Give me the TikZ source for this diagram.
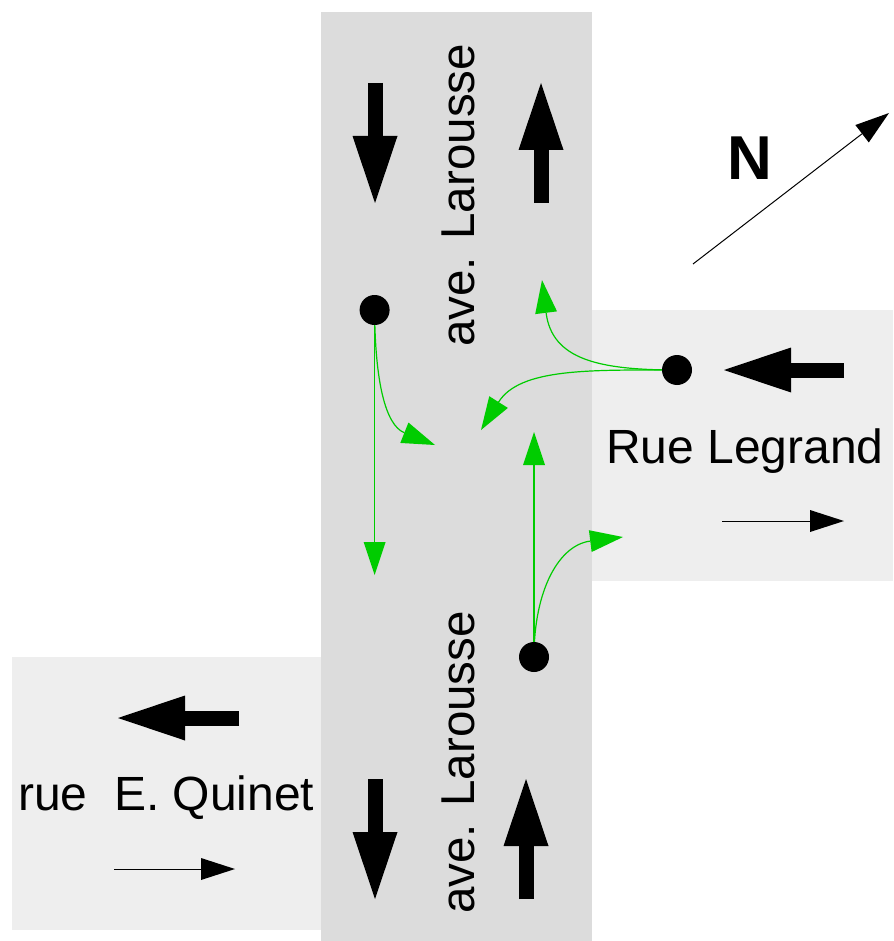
\documentclass[tikz,border=0pt]{standalone}
\usepackage{fontspec}
\setmainfont{Liberation Sans}
\usetikzlibrary{arrows.meta}
\definecolor{roadmain}{HTML}{DCDCDC}
\definecolor{roadside}{HTML}{EEEEEE}
\definecolor{turn}{HTML}{00CC00}
\tikzset{
  label text/.style={inner sep=0pt,font=\fontsize{48}{50}\selectfont,anchor=base west},
  big arrow/.style={line width=15pt,-{Triangle[length=67pt,width=45pt,line width=0pt]}},
  thin arrow/.style={line width=1pt,-{Triangle[length=34pt,width=22pt,line width=0pt]}},
  turn arrow/.style={line width=1.2pt,draw=turn,-{Triangle[length=33pt,width=22pt,fill=turn,line width=0pt]}},
  stop dot/.style={circle,fill=black,inner sep=0pt,minimum size=30pt},
}
\begin{document}
\begin{tikzpicture}[x=1pt,y=-1pt]
\useasboundingbox (0,0) rectangle (893,941);
\fill[roadside] (592,310) rectangle (893,581);
\fill[roadside] (12,657) rectangle (321,930);
\fill[roadmain] (321,12) rectangle (592,941);
% named ends
\coordinate (a1s) at (375,83);  \coordinate (a1e) at (375,203);
\coordinate (a2s) at (541,203); \coordinate (a2e) at (541,83);
\coordinate (a3s) at (375,779); \coordinate (a3e) at (375,899);
\coordinate (a4s) at (526,899); \coordinate (a4e) at (526,779);
\coordinate (a5s) at (844,370); \coordinate (a5e) at (724,370);
\coordinate (a6s) at (239,718); \coordinate (a6e) at (118,718);
\coordinate (t1s) at (722,521); \coordinate (t1e) at (844,521);
\coordinate (t2s) at (114,869); \coordinate (t2e) at (235,869);
\coordinate (ns) at (693,264);  \coordinate (ne) at (889,113);
\coordinate (g1) at (374.6,575);
\coordinate (g2) at (435,445);
\coordinate (g3) at (542,280);
\coordinate (g4) at (481,430);
\coordinate (g5) at (534,432);
\coordinate (g6) at (623,537);
\coordinate (c1) at (374.6,310);
\coordinate (c2) at (677,370);
\coordinate (c3) at (534,657);
% turn arrows
\draw[turn arrow] (c1) -- (g1);
\draw[turn arrow] (c1) .. controls (375,380) and (385,425) .. (g2);
\draw[turn arrow] (c2) .. controls (600,370) and (552,360) .. (g3);
\draw[turn arrow] (c2) .. controls (590,370) and (520,368) .. (g4);
\draw[turn arrow] (c3) -- (g5);
\draw[turn arrow] (c3) .. controls (534,590) and (559,545) .. (g6);
\node[stop dot] (d1) at (c1) {};
\node[stop dot] (d2) at (c2) {};
\node[stop dot] (d3) at (c3) {};
% heavy and light arrows
\draw[big arrow] (a1s) -- (a1e);
\draw[big arrow] (a2s) -- (a2e);
\draw[big arrow] (a3s) -- (a3e);
\draw[big arrow] (a4s) -- (a4e);
\draw[big arrow] (a5s) -- (a5e);
\draw[big arrow] (a6s) -- (a6e);
\draw[thin arrow] (t1s) -- (t1e);
\draw[thin arrow] (t2s) -- (t2e);
\draw[thin arrow] (ns) -- (ne);
% labels
\node[label text,rotate=90,font=\fontsize{47.5}{50}\selectfont] (l1) at (474,347) {ave. Larousse};
\node[label text,rotate=90,font=\fontsize{47.5}{50}\selectfont] (l2) at (474,914) {ave. Larousse};
\node[label text] (l3) at (606,463) {Rue Legrand};
\node[label text] (l4) at (18,810) {rue\ \ E. Quinet};
\node[inner sep=0pt,anchor=base west,font=\fontsize{62}{64}\selectfont\bfseries] (l5) at (727,180) {N};
\end{tikzpicture}
\end{document}
